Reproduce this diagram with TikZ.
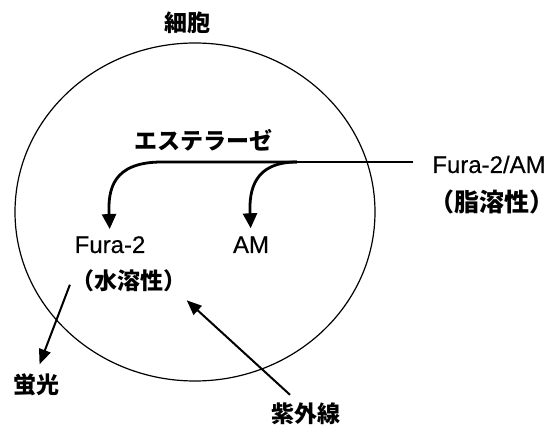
\documentclass[tikz,border=0pt]{standalone}
\usepackage{fontspec}
\setmainfont{Liberation Sans}
\newfontfamily\latf[FakeBold=0.4]{Liberation Sans}
\newfontfamily\jp{Noto Sans CJK JP}
\usetikzlibrary{arrows.meta,shapes.geometric,calc}
\tikzset{
  lat/.style={font=\latf\fontsize{24}{28}\selectfont, inner sep=0pt, anchor=base},
  jpl/.style={font=\jp\bfseries\fontsize{23}{26}\selectfont, inner sep=0pt},
  jpbig/.style={font=\jp\bfseries\fontsize{25}{28}\selectfont, inner sep=0pt},
  cellshape/.style={ellipse, draw, line width=1.2pt, minimum width=360pt, minimum height=338pt, inner sep=0pt},
  bigarr/.style={line width=2.8pt, -{Triangle[length=15pt,width=14pt]}},
  thinarr/.style={line width=2pt, -{Triangle[length=15pt,width=12pt]}},
  flatline/.style={line width=2.8pt}
}
\begin{document}
\begin{tikzpicture}[x=1pt,y=-1pt]
\useasboundingbox (0,0) rectangle (557,427);
\node[cellshape] (cell) at (195,212) {};
\node[jpl] (title) at (187,23) {細胞};
\node[jpl] (ester) at (203,140) {エステラーゼ};
\node[lat] (fam) at (489,173) {Fura-2/AM};
\node[jpbig] (lip) at (492,202) {（脂溶性）};
\node[lat] (fura) at (110,253) {Fura-2};
\node[lat] (am) at (251,253) {AM};
\node[jpl] (wat) at (129,281) {（水溶性）};
\node[jpl] (fl) at (36,385) {蛍光};
\node[jpl] (uv) at (306,414) {紫外線};
\coordinate (lineend) at (413,162);
\coordinate (jr) at (297,162);
\coordinate (jl) at (162,162);
\draw[flatline] (lineend) -- (jr);
\draw[bigarr, shorten >=7pt] (jr) -- (jl) .. controls (112,162) and (108,190) .. (fura.north);
\draw[bigarr, shorten >=8pt] (jr) .. controls (254,162) and (249,190) .. (am.north);
\draw[thinarr, shorten <=4pt, shorten >=10pt] (wat.west) -- (fl.north);
\draw[thinarr] ($(uv.north)+(-16,-8)$) -- ($(wat.south east)+(0,8)$);
\end{tikzpicture}
\end{document}
